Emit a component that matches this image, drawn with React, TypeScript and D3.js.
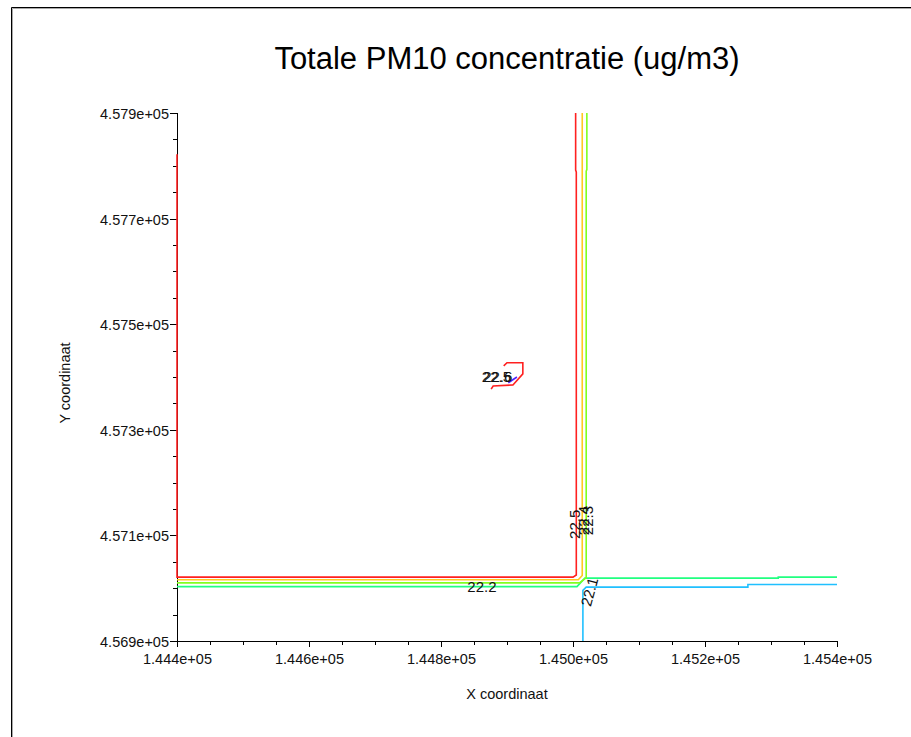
import React from "react";
import * as d3 from "d3";

// contour levels and the colour scilab gave each one
const levels = [22.1, 22.2, 22.3, 22.4, 22.5, 22.6];
const levelColors = ["#20c0ff", "#20ff80", "#80ff20", "#ffc820", "#ff2020", "#5020ff"];

// contour polylines in data units [x, y]
const contour221 = [[145015, 456900], [145015, 456996], [145020, 457002], [145265, 457002], [145265, 457007], [145400, 457007]];
const contour222 = [[144400, 457003], [145006, 457003], [145018, 457019], [145311, 457019], [145311, 457021], [145400, 457021]];
const contour223 = [[144400, 457010], [145010, 457010], [145020, 457020], [145020, 457790], [145021, 457793], [145021, 457900]];
const contour224 = [[144400, 457016], [145008, 457016], [145014, 457024], [145014, 457900]];
const contour225 = [[144400, 457822], [144400, 457021], [145000, 457021], [145005, 457025], [145005, 457788], [145004, 457792], [145004, 457900]];
const contour225b = [[144895, 457421], [144900, 457427], [144924, 457427], [144924, 457406], [144909, 457385], [144879, 457383], [144876, 457377]];
const contour226 = [[144902, 457389], [144915, 457400]];

const contours = [
  { level: 22.1, pts: contour221 },
  { level: 22.2, pts: contour222 },
  { level: 22.3, pts: contour223 },
  { level: 22.4, pts: contour224 },
  { level: 22.5, pts: contour225 },
  { level: 22.5, pts: contour225b },
  { level: 22.6, pts: contour226 },
];

// contour labels: text, x, y, rotation
const labelTexts = ["22.5", "22.4", "22.3", "22.2", "22.1", "22.5", "22.6"];
const labelX = [145003, 145017, 145023, 144862, 145025, 144884, 144886];
const labelY = [457121, 457128, 457128, 457002, 456993, 457401, 457401];
const labelRot = [-90, -90, -90, 0, -75, 0, 0];

const xDomain = [144400, 145400];
const yDomain = [456900, 457900];

const fmt = (v: number) => {
  const s = v.toExponential(3);
  const [m, e] = s.split("e");
  const n = parseInt(e, 10);
  return `${m}e${n < 0 ? "-" : "+"}${String(Math.abs(n)).padStart(2, "0")}`;
};

const App = () => {
  const width = 911;
  const height = 737;
  const left = 177;
  const right = 837;
  const top = 113;
  const bottom = 641;

  const x = d3.scaleLinear().domain(xDomain).range([left, right]);
  const y = d3.scaleLinear().domain(yDomain).range([bottom, top]);
  const color = d3.scaleOrdinal<number, string>().domain(levels).range(levelColors);

  const line = d3
    .line<number[]>()
    .x((d) => x(d[0]))
    .y((d) => y(d[1]));

  const xTicks = d3.range(xDomain[0], xDomain[1] + 1, 50);
  const yTicks = d3.range(yDomain[0], yDomain[1] + 1, 50);
  const isMajor = (v: number, start: number) => Math.round(v - start) % 200 === 0;

  const font = "'Liberation Sans', Arial, sans-serif";

  return (
    <svg
      width={width}
      height={height}
      style={{ position: "absolute", left: 0, top: 0, background: "#fff" }}
      fontFamily={font}
    >
      {/* window frame */}
      <line x1={11.5} y1={7.5} x2={width} y2={7.5} stroke="#000" />
      <line x1={11.5} y1={7.5} x2={11.5} y2={height} stroke="#000" />
      <line x1={12.5} y1={8.5} x2={width} y2={8.5} stroke="#a8a8a8" />
      <line x1={12.5} y1={8.5} x2={12.5} y2={height} stroke="#a8a8a8" />

      <text x={507} y={69} textAnchor="middle" fontSize={31} fill="#000">
        Totale PM10 concentratie (ug/m3)
      </text>

      {/* axes */}
      <line x1={left + 0.5} y1={top} x2={left + 0.5} y2={bottom + 0.5} stroke="#000" />
      <line x1={left} y1={bottom + 0.5} x2={right} y2={bottom + 0.5} stroke="#000" />
      {xTicks.map((v) => {
        const major = isMajor(v, xDomain[0]);
        const px = Math.round(x(v)) + 0.5;
        return (
          <g key={"x" + v}>
            <line x1={px} x2={px} y1={bottom} y2={bottom + (major ? 6 : 4)} stroke="#000" />
            {major && (
              <text x={px} y={664} textAnchor="middle" fontSize={14.5} fill="#111">
                {fmt(v)}
              </text>
            )}
          </g>
        );
      })}
      {yTicks.map((v) => {
        const major = isMajor(v, yDomain[0]);
        const py = Math.round(y(v)) + 0.5;
        return (
          <g key={"y" + v}>
            <line x1={left - (major ? 7 : 4)} x2={left} y1={py} y2={py} stroke="#000" />
            {major && (
              <text x={169} y={py + 5} textAnchor="end" fontSize={14.5} fill="#111">
                {fmt(v)}
              </text>
            )}
          </g>
        );
      })}

      <text x={507} y={699} textAnchor="middle" fontSize={14.5} fill="#111">
        X coordinaat
      </text>
      <text
        transform={`translate(70,383) rotate(-90)`}
        textAnchor="middle"
        fontSize={14.5}
        fill="#111"
      >
        Y coordinaat
      </text>

      {/* contour lines */}
      {contours.map((c, i) => (
        <path
          key={"c" + i}
          d={line(c.pts) || ""}
          fill="none"
          stroke={color(c.level)}
          strokeWidth={1.6}
        />
      ))}

      {/* contour labels */}
      {labelTexts.map((t, i) => (
        <text
          key={"l" + i}
          transform={`translate(${x(labelX[i])},${y(labelY[i])}) rotate(${labelRot[i]})`}
          textAnchor="middle"
          dy="0.35em"
          fontSize={15}
          fill="#111"
        >
          {t}
        </text>
      ))}
    </svg>
  );
};

export default App;
